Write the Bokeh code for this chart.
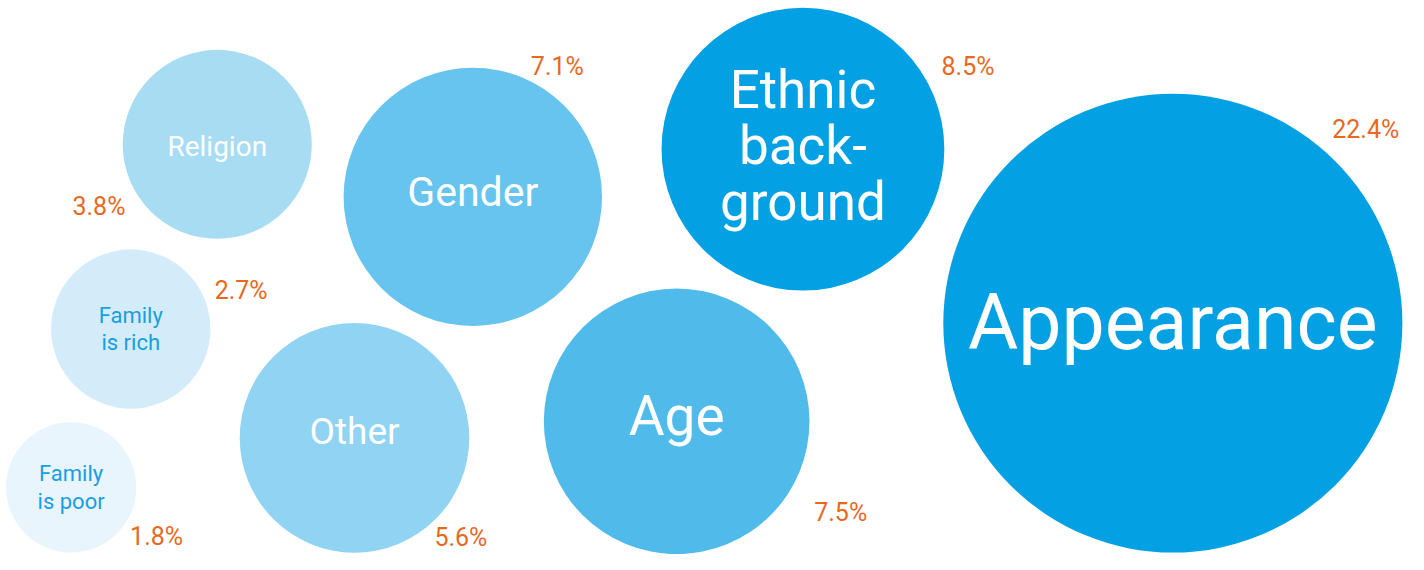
from bokeh.plotting import figure
from bokeh.models import ColumnDataSource, Range1d, CDSView, IndexFilter
from bokeh.core.properties import value
from bokeh.embed import file_html
from bokeh.resources import INLINE
import numpy as np

# ---- data ----
categories = ["Appearance", "Ethnic background", "Age", "Gender", "Other",
              "Religion", "Family is rich", "Family is poor"]
shares = [22.4, 8.5, 7.5, 7.1, 5.6, 3.8, 2.7, 1.8]
labels = ["Appearance", "Ethnic\nback-\nground", "Age", "Gender", "Other",
          "Religion", "Family\nis rich", "Family\nis poor"]
pct_labels = [f"{v:.1f}%" for v in shares]

# ---- layout (reference pixel coordinates) ----
cx = [1179, 807, 680, 475, 356, 218, 131, 71]
cy = [332, 153, 433, 202, 450, 148, 338, 501]
fills = ["#03A0E3", "#03A0E3", "#50BBEB", "#66C4EE", "#91D3F2",
         "#A8DCF3", "#D4ECFA", "#E8F5FD"]
label_colors = ["white", "white", "white", "white", "white", "white",
                "#1A9EE0", "#1A9EE0"]
label_sizes = ["77px", "53px", "55px", "41px", "37px", "28px", "22px", "22px"]
label_dy = [0, -3, -5, -5, -7, 2, 0, 0]
px = [1373, 973, 845, 560, 463, 99, 242, 157]
py = [133, 68, 527, 68, 552, 212, 298, 551]

SCALE = 49.9  # reference pixels per sqrt(percentage point)
radius = [SCALE * np.sqrt(v) for v in shares]

src = ColumnDataSource(dict(
    cat=categories, share=shares, label=labels, pct=pct_labels,
    x=cx, y=cy, ly=[a + b for a, b in zip(cy, label_dy)],
    r=radius, fill=fills, lc=label_colors, ls=label_sizes, px=px, py=py,
))

p = figure(width=1408, height=554, output_backend="svg", toolbar_location=None,
           x_range=Range1d(0, 1416), y_range=Range1d(570, 0), min_border=0)
p.axis.visible = False
p.grid.visible = False
p.outline_line_color = None
p.background_fill_color = "white"

p.circle(x="x", y="y", radius="r", radius_dimension="y", fill_color="fill",
         line_color=None, source=src)

groups = [([0, 2, 3, 4, 5], 1.2), ([1], 0.9), ([6, 7], 1.09)]
for idx, lh in groups:
    p.text(x="x", y="ly", text="label", text_color="lc", text_font_size="ls",
           text_font=value("Roboto"), text_align="center", text_baseline="middle",
           text_line_height=lh, source=src, view=CDSView(filter=IndexFilter(idx)))

p.text(x="px", y="py", text="pct", text_color="#E8691E", text_font_size="25px",
       text_font=value("Roboto"), text_align="center", text_baseline="middle",
       source=src)

open("out.html", "w").write(file_html(p, INLINE))
